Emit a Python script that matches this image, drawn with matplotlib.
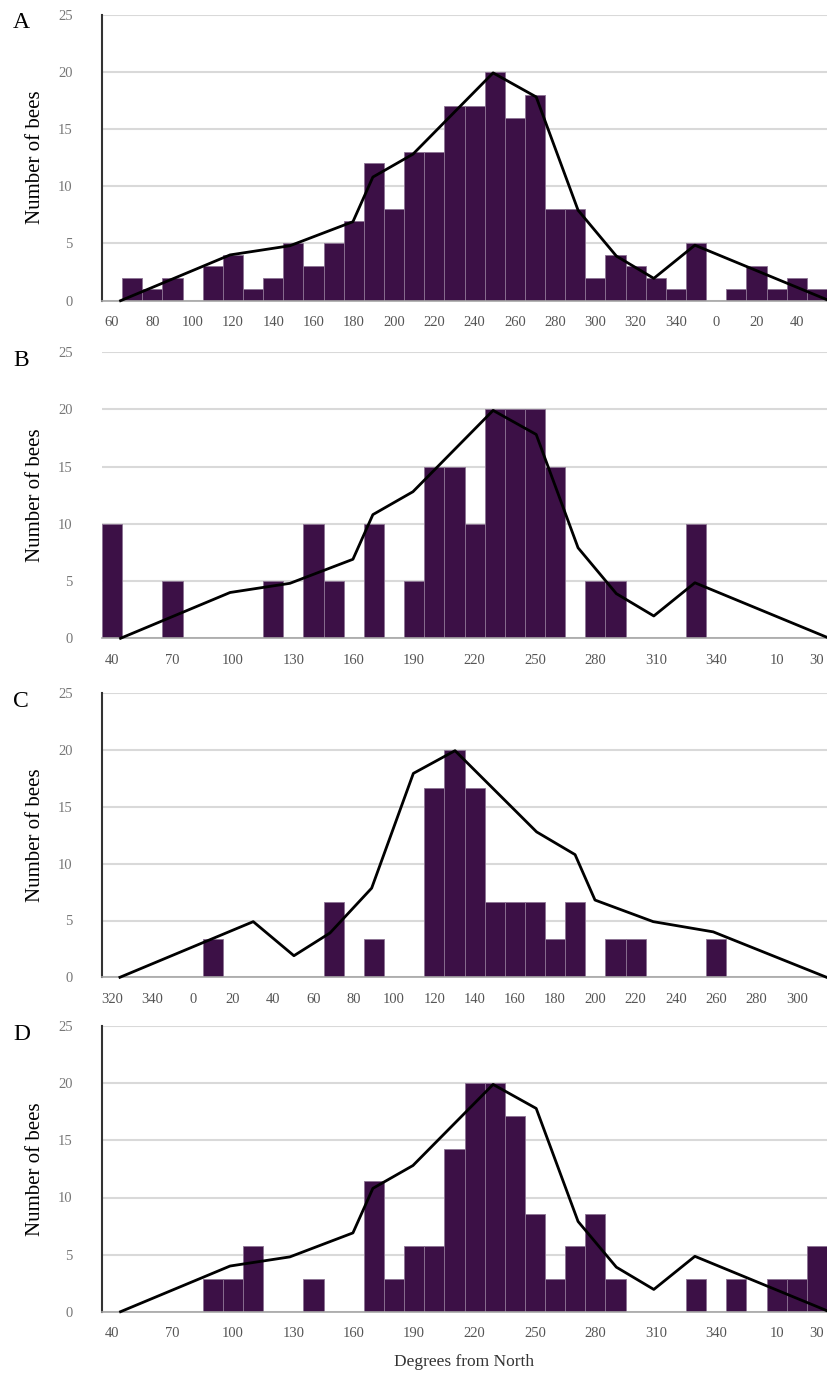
import numpy as np
import matplotlib.pyplot as plt

plt.rcParams['font.family'] = ['Liberation Serif', 'DejaVu Serif']

# --- data: bar heights per 10-degree bin (36 bins per panel) ---
a_counts = [0, 2, 1, 2, 0, 3, 4, 1, 2, 5, 3, 5, 7, 12, 8, 13, 13, 17, 17, 20,
            16, 18, 8, 8, 2, 4, 3, 2, 1, 5, 0, 1, 3, 1, 2, 1]
b_counts = [10, 0, 0, 5, 0, 0, 0, 0, 5, 0, 10, 5, 0, 10, 0, 5, 15, 15, 10, 20,
            20, 20, 15, 0, 5, 5, 0, 0, 0, 10, 0, 0, 0, 0, 0, 0]
c_counts = [0, 0, 0, 0, 0, 3.33, 0, 0, 0, 0, 0, 6.67, 0, 3.33, 0, 0, 16.67, 20,
            16.67, 6.67, 6.67, 6.67, 3.33, 6.67, 0, 3.33, 3.33, 0, 0, 0, 3.33,
            0, 0, 0, 0, 0]
d_counts = [0, 0, 0, 0, 0, 2.86, 2.86, 5.71, 0, 0, 2.86, 0, 0, 11.43, 2.86,
            5.71, 5.71, 14.29, 20, 20, 17.14, 8.57, 2.86, 5.71, 8.57, 2.86, 0,
            0, 0, 2.86, 0, 2.86, 0, 2.86, 2.86, 5.71]

# x tick labels (degrees from north)
a_labels = ['60', '80', '100', '120', '140', '160', '180', '200', '220', '240',
            '260', '280', '300', '320', '340', '0', '20', '40']
b_labels = ['40', '70', '100', '130', '160', '190', '220', '250', '280', '310',
            '340', '10', '30']
c_labels = ['320', '340', '0', '20', '40', '60', '80', '100', '120', '140',
            '160', '180', '200', '220', '240', '260', '280', '300']
d_labels = b_labels

# overlay line (position in bin units, value)
abd_line_x = [0.42, 5.86, 8.83, 11.96, 12.95, 14.94, 18.92, 21.06, 23.14,
              25.04, 26.9, 28.94, 35.48]
abd_line_y = [0, 4.0, 4.8, 6.9, 10.8, 12.8, 19.9, 17.8, 7.9, 3.9, 1.95, 4.85, 0.1]
c_line_x = [0.39, 7.01, 9.03, 10.82, 12.89, 14.96, 17.03, 21.08, 22.99, 23.98,
            26.87, 29.85, 35.48]
c_line_y = [0, 4.9, 1.9, 3.9, 7.85, 17.95, 19.95, 12.8, 10.8, 6.8, 4.9, 4.0, 0]

W, H = 827, 1376
fig = plt.figure(figsize=(W / 100, H / 100), dpi=100)

# (letter, counts, labels, tick step, line x, line y, top px, bottom px, show left axis)
panels = [
    ('A', a_counts, a_labels, 2, abd_line_x, abd_line_y, 14.5, 300.7, True),
    ('B', b_counts, b_labels, 3, abd_line_x, abd_line_y, 352.0, 638.3, False),
    ('C', c_counts, c_labels, 2, c_line_x, c_line_y, 693.3, 977.3, True),
    ('D', d_counts, d_labels, 3, abd_line_x, abd_line_y, 1026.2, 1311.7, True),
]

bar_color = '#3c1046'
left_px, right_px = 102, 827

for letter, counts, labels, step, lx, ly, top, bot, show_left in panels:
    ax = fig.add_axes([left_px / W, 1 - bot / H, (right_px - left_px) / W, (bot - top) / H])
    idx = np.arange(len(counts))
    ax.bar(idx, counts, width=1.0, color=bar_color, edgecolor='#8c7393',
           linewidth=0.6, zorder=2)
    ax.plot(lx, ly, color='black', lw=2.0, zorder=3, clip_on=False)

    ax.set_xlim(-0.5, 35.5)
    ax.set_ylim(0, 25)
    ax.set_yticks(range(0, 26, 5))
    ax.yaxis.grid(True, color='#d9d9d9', lw=1.5, zorder=0)
    ax.set_axisbelow(True)

    pos = list(range(0, 36, step))[:len(labels)]
    if len(pos) < len(labels):
        pos.append(35)
    ax.set_xticks(pos)
    ax.set_xticklabels(labels)
    ax.tick_params(axis='x', length=0, pad=11, labelsize=10.5, labelcolor='#555555')
    ax.tick_params(axis='y', length=0, pad=21, labelsize=10.5, labelcolor='#777777')

    for s in ['top', 'right']:
        ax.spines[s].set_visible(False)
    ax.spines['bottom'].set_color('#a6a6a6')
    ax.spines['bottom'].set_linewidth(1.2)
    if show_left:
        ax.spines['left'].set_color('#333333')
        ax.spines['left'].set_linewidth(1.5)
    else:
        ax.spines['left'].set_visible(False)

    ax.set_ylabel('Number of bees', fontsize=15)
    ax.yaxis.set_label_coords(-(left_px - 45) / (right_px - left_px), 0.5)
    fig.text(13 / W, 1 - (top + 8) / H, letter, fontsize=17, va='center', ha='left')

fig.text(464 / W, 1 - 1362 / H, 'Degrees from North', fontsize=12.5,
         ha='center', va='center', color='#333333')

fig.savefig('out.png', dpi=100)
